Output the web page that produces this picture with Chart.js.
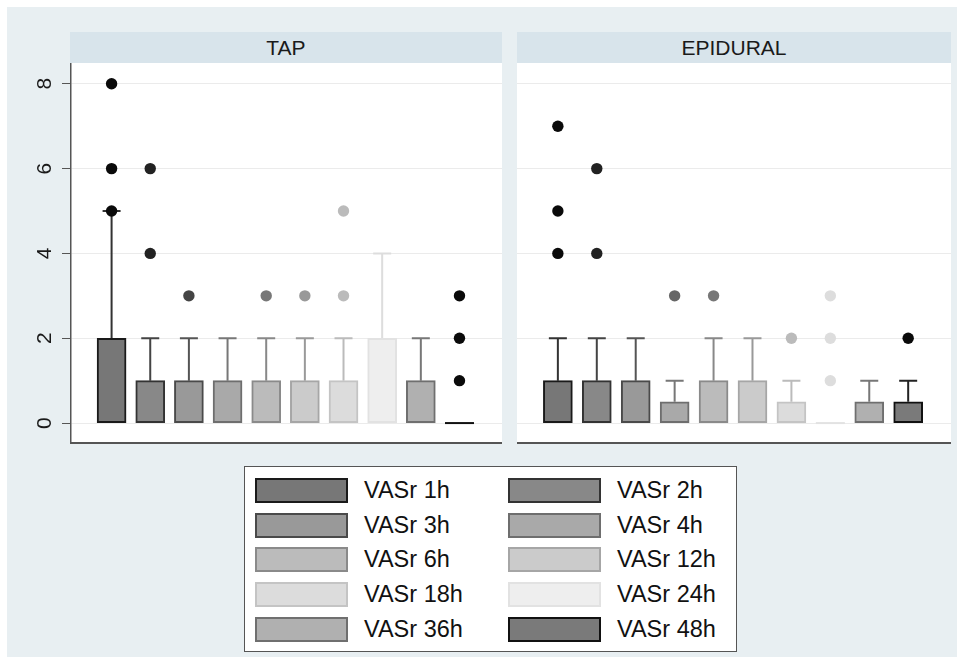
<!DOCTYPE html>
<html>
<head>
<meta charset="utf-8">
<script src="https://cdn.jsdelivr.net/npm/chart.js@4.4.1/dist/chart.umd.min.js"></script>
<style>
  body { margin: 0; background: #fff; font-family: "Liberation Sans", Arial, sans-serif; }
  #frame { position: absolute; left: 7px; top: 7px; width: 950px; height: 650px; background: #e8eff2; }
  .strip { position: absolute; top: 32px; height: 31px; line-height: 31px; background: #d8e4eb;
           text-align: center; font-size: 21px; color: #1a1a1a; }
  canvas { position: absolute; }
  #legend { position: absolute; left: 244px; top: 466px; width: 491px; height: 184px;
            background: #fff; border: 1.5px solid #555; }
  .item { position: absolute; height: 25px; }
  .sw { position: absolute; left: 0; top: 0; width: 89px; height: 21px; border: 2px solid; }
  .lab { position: absolute; left: 109px; top: -1px; font-size: 23.5px; line-height: 27px; color: #111; white-space: nowrap; }
</style>
</head>
<body>
<div id="frame"></div>
<div class="strip" style="left:70px;width:432px">TAP</div>
<div class="strip" style="left:517px;width:434px">EPIDURAL</div>
<canvas id="tap" width="502" height="381" style="left:0;top:63px"></canvas>
<canvas id="epi" width="434" height="381" style="left:517px;top:63px"></canvas>
<div id="legend"></div>
<script>
var times = ['VASr 1h', 'VASr 2h', 'VASr 3h', 'VASr 4h', 'VASr 6h', 'VASr 12h', 'VASr 18h', 'VASr 24h', 'VASr 36h', 'VASr 48h'];
var yTicks = [0, 2, 4, 6, 8];

// TAP group: box top (75th pct), median, upper whisker, outside values
var tapQ3 = [2, 1, 1, 1, 1, 1, 1, 2, 1, 0];
var tapMedian = [0, 0, 0, 0, 0, 0, 0, 0, 0, 0];
var tapWhisker = [5, 2, 2, 2, 2, 2, 2, 4, 2, 0];
var tapOutliers = [[5, 6, 8], [4, 6], [3], [], [3], [3], [3, 5], [], [], [1, 2, 3]];

// EPIDURAL group
var epiQ3 = [1, 1, 1, 0.5, 1, 1, 0.5, 0, 0.5, 0.5];
var epiMedian = [0, 0, 0, 0, 0, 0, 0, 0, 0, 0];
var epiWhisker = [2, 2, 2, 1, 2, 2, 1, 0, 1, 1];
var epiOutliers = [[4, 5, 7], [4, 6], [], [3], [3], [], [2], [1, 2, 3], [], [2]];

var fills = ['#777777', '#888888', '#999999', '#a9a9a9', '#bbbbbb', '#cbcbcb', '#dcdcdc', '#eeeeee', '#b0b0b0', '#7a7a7a'];
var edges = ['#1a1a1a', '#333333', '#4a4a4a', '#6e6e6e', '#8a8a8a', '#a6a6a6', '#c4c4c4', '#e2e2e2', '#6f6f6f', '#111111'];
var whiskerCols = ['#333333', '#444444', '#555555', '#777777', '#888888', '#999999', '#bbbbbb', '#dddddd', '#777777', '#222222'];
var dotCols = ['#0a0a0a', '#222222', '#444444', '#666666', '#777777', '#999999', '#bbbbbb', '#dddddd', '#888888', '#0a0a0a'];

// whiskers + median line, drawn from the scales
var boxParts = {
  id: 'boxParts',
  beforeDatasetsDraw: function (chart) {
    var o = chart.options.plugins.boxParts;
    var xs = chart.scales.x, ys = chart.scales.y, ctx = chart.ctx;
    ctx.save();
    ctx.lineWidth = 2;
    for (var i = 0; i < times.length; i++) {
      var x = xs.getPixelForValue(i + 1);
      if (o.whisker[i] > o.q3[i]) {
        var yTop = ys.getPixelForValue(o.whisker[i]);
        ctx.strokeStyle = whiskerCols[i];
        ctx.beginPath();
        ctx.moveTo(x, ys.getPixelForValue(o.q3[i]));
        ctx.lineTo(x, yTop);
        ctx.moveTo(x - 9, yTop);
        ctx.lineTo(x + 9, yTop);
        ctx.stroke();
      }
    }
    ctx.restore();
  },
  afterDatasetsDraw: function (chart) {
    var o = chart.options.plugins.boxParts;
    var xs = chart.scales.x, ys = chart.scales.y, ctx = chart.ctx;
    ctx.save();
    ctx.lineWidth = 2;
    for (var i = 0; i < times.length; i++) {
      if (o.q3[i] > o.median[i]) continue;
      var x = xs.getPixelForValue(i + 1), y = ys.getPixelForValue(o.median[i]);
      ctx.strokeStyle = edges[i];
      ctx.beginPath();
      ctx.moveTo(x - 14.5, y);
      ctx.lineTo(x + 14.5, y);
      ctx.stroke();
    }
    ctx.restore();
  }
};

// white plot region + rotated y labels
var panelDeco = {
  id: 'panelDeco',
  beforeDraw: function (chart) {
    var a = chart.chartArea, ctx = chart.ctx;
    ctx.save();
    ctx.fillStyle = '#ffffff';
    ctx.fillRect(a.left, a.top, a.right - a.left, a.bottom - a.top);
    ctx.restore();
  },
  afterDraw: function (chart) {
    if (!chart.options.plugins.panelDeco.labels) return;
    var ys = chart.scales.y, ctx = chart.ctx;
    ctx.save();
    ctx.fillStyle = '#1a1a1a';
    ctx.font = '21px "Liberation Sans", Arial, sans-serif';
    ctx.textAlign = 'center';
    ctx.textBaseline = 'middle';
    yTicks.forEach(function (v) {
      ctx.save();
      ctx.translate(45, ys.getPixelForValue(v));
      ctx.rotate(-Math.PI / 2);
      ctx.fillText(String(v), 0, 0);
      ctx.restore();
    });
    ctx.restore();
  }
};

function makePanel(id, q3, median, whisker, outliers, withAxis) {
  var pts = [], ptCols = [];
  outliers.forEach(function (vals, i) {
    vals.forEach(function (v) { pts.push({ x: i + 1, y: v }); ptCols.push(dotCols[i]); });
  });
  new Chart(document.getElementById(id), {
    type: 'bar',
    data: {
      datasets: [{
        type: 'bar',
        data: q3.map(function (v, i) { return { x: i + 1, y: [median[i], v] }; }),
        backgroundColor: fills,
        borderColor: edges,
        borderWidth: 2,
        borderSkipped: false,
        barThickness: 29,
        order: 2
      }, {
        type: 'scatter',
        data: pts,
        pointBackgroundColor: ptCols,
        pointBorderWidth: 0,
        pointRadius: 5.7,
        order: 1
      }]
    },
    options: {
      responsive: false,
      animation: false,
      layout: { padding: 0, autoPadding: false },
      plugins: {
        legend: { display: false },
        tooltip: { enabled: false },
        boxParts: { q3: q3, median: median, whisker: whisker },
        panelDeco: { labels: withAxis }
      },
      scales: {
        x: {
          type: 'linear', min: -0.05, max: 11.1, offset: false,
          grid: { display: false },
          ticks: { display: false },
          border: { display: true, color: '#555', width: 2 },
          afterFit: function (s) { s.height = 1; }
        },
        y: {
          min: -0.47, max: 8.49,
          afterBuildTicks: function (s) { s.ticks = yTicks.map(function (v) { return { value: v }; }); },
          grid: { color: '#ebebeb', lineWidth: 1, drawTicks: withAxis, tickLength: 9, tickColor: '#555' },
          ticks: { display: false },
          border: { display: withAxis, color: '#555', width: 1.5 },
          afterFit: function (s) { s.width = withAxis ? 71 : 0; }
        }
      }
    },
    plugins: [boxParts, panelDeco]
  });
}

makePanel('tap', tapQ3, tapMedian, tapWhisker, tapOutliers, true);
makePanel('epi', epiQ3, epiMedian, epiWhisker, epiOutliers, false);

// legend: two columns, five rows
var legend = document.getElementById('legend');
times.forEach(function (t, i) {
  var col = i % 2, row = Math.floor(i / 2);
  var item = document.createElement('div');
  item.className = 'item';
  item.style.left = (col === 0 ? 10 : 263) + 'px';
  item.style.top = (11 + row * 34.7) + 'px';
  item.innerHTML = '<div class="sw" style="background:' + fills[i] + ';border-color:' + edges[i] + '"></div>' +
                   '<div class="lab">' + t + '</div>';
  legend.appendChild(item);
});
</script>
</body>
</html>
